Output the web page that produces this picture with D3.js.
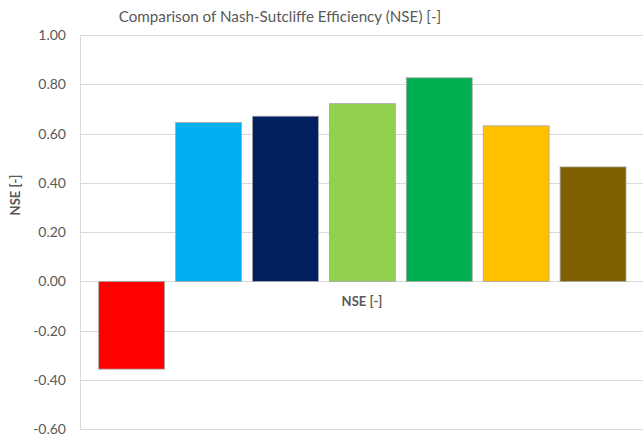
<!DOCTYPE html>
<html>
<head>
<meta charset="utf-8">
<script src="https://cdn.jsdelivr.net/npm/d3@7"></script>
<style>
  html, body { margin: 0; padding: 0; background: #fff; }
  svg { display: block; }
  text { font-family: Lato, "Open Sans", sans-serif; }
</style>
</head>
<body>
<svg id="chart" width="643" height="435"></svg>
<script>
// Nash-Sutcliffe Efficiency per model run
const series = ["S1", "S2", "S3", "S4", "S5", "S6", "S7"];
const nseValues = [-0.356, 0.645, 0.671, 0.722, 0.827, 0.632, 0.465];
const barColors = ["#ff0000", "#00b0f0", "#002060", "#92d050", "#00b050", "#ffc000", "#7f6000"];
const yTicks = [-0.6, -0.4, -0.2, 0.0, 0.2, 0.4, 0.6, 0.8, 1.0];

const title = "Comparison of Nash-Sutcliffe Efficiency (NSE) [-]";
const yTitle = "NSE [-]";
const xTitle = "NSE [-]";

const svg = d3.select("#chart");
const plotLeft = 80, plotRight = 645, plotTop = 35.2, plotBottom = 429.2;

const y = d3.scaleLinear().domain([-0.6, 1.0]).range([plotBottom, plotTop]);
const x = d3.scaleBand()
  .domain(series)
  .range([93.2, 631.5])
  .paddingInner(0.143)
  .paddingOuter(0.0715);

// plain hyphen for negatives, two decimals
const fmt = d => d3.format(".2f")(d).replace("\u2212", "-");

// gridlines
svg.append("g")
  .selectAll("line")
  .data(yTicks)
  .join("line")
  .attr("x1", plotLeft)
  .attr("x2", plotRight)
  .attr("y1", d => Math.round(y(d)) + 0.5)
  .attr("y2", d => Math.round(y(d)) + 0.5)
  .attr("stroke", "#d9d9d9")
  .attr("stroke-width", 1);

// vertical axis line
svg.append("line")
  .attr("x1", plotLeft + 0.5).attr("x2", plotLeft + 0.5)
  .attr("y1", plotTop).attr("y2", plotBottom)
  .attr("stroke", "#d9d9d9");

// y tick labels
const yAxis = d3.axisLeft(y).tickValues(yTicks).tickFormat(fmt).tickSize(0).tickPadding(14);
const yg = svg.append("g").attr("transform", `translate(${plotLeft},0)`).call(yAxis);
yg.select(".domain").remove();
yg.selectAll("text")
  .attr("fill", "#595959")
  .style("font-size", "14px")
  .style("font-family", "Lato, 'Open Sans', sans-serif");

// bars
svg.append("g")
  .selectAll("rect")
  .data(series.map((s, i) => ({ s, v: nseValues[i], c: barColors[i] })))
  .join("rect")
  .attr("x", d => x(d.s))
  .attr("width", x.bandwidth())
  .attr("y", d => y(Math.max(0, d.v)))
  .attr("height", d => Math.abs(y(d.v) - y(0)))
  .attr("fill", d => d.c)
  .attr("stroke", "#a6a6a6")
  .attr("stroke-width", 0.8);

// title
svg.append("text")
  .attr("x", 280)
  .attr("y", 22)
  .attr("text-anchor", "middle")
  .attr("fill", "#595959")
  .style("font-size", "15.2px")
  .text(title);

// x axis title (sits just under the zero line)
svg.append("text")
  .attr("x", 362)
  .attr("y", 306)
  .attr("text-anchor", "middle")
  .attr("fill", "#595959")
  .style("font-size", "13px")
  .style("font-weight", "bold")
  .text(xTitle);

// y axis title
svg.append("text")
  .attr("transform", "translate(20,195) rotate(-90)")
  .attr("text-anchor", "middle")
  .attr("fill", "#595959")
  .style("font-size", "13px")
  .style("font-weight", "bold")
  .text(yTitle);
</script>
</body>
</html>
